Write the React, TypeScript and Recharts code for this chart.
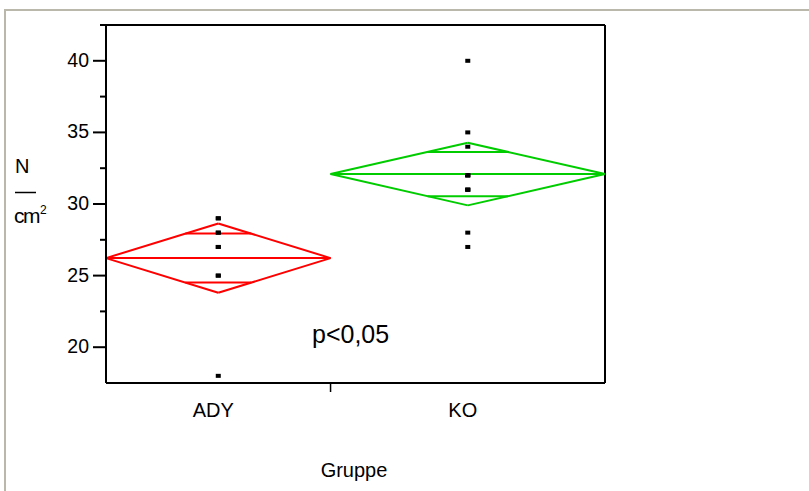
import { ScatterChart, Scatter, XAxis, YAxis, ReferenceLine } from 'recharts'

const groups = ['ADY', 'KO']
const adyValues = [29, 29, 28, 28, 27, 27, 25, 25, 18]
const koValues = [40, 35, 34, 32, 32, 32, 31, 31, 31, 28, 27]
const groupColors = ['#ff0000', '#00cc00']
const yTicks = [20, 22.5, 25, 27.5, 30, 32.5, 35, 37.5, 40, 42.5]
const T_CRIT = 2.101 // t(0.975, df = 18)

const FONT = '"Liberation Sans", Arial, sans-serif'

// group widths are proportional to n, diamonds use the pooled std error
const samples = [adyValues, koValues]
const totalN = samples.reduce((a, s) => a + s.length, 0)
const means = samples.map((s) => s.reduce((a, v) => a + v, 0) / s.length)
const ss = samples.reduce((a, s, i) => a + s.reduce((b, v) => b + (v - means[i]) ** 2, 0), 0)
const pooledSd = Math.sqrt(ss / (totalN - samples.length))

let start = 0
const stats = samples.map((s, i) => {
  const n = s.length
  const st = { n, mean: means[i], ci: (T_CRIT * pooledSd) / Math.sqrt(n), x0: start, x1: start + n, xc: start + n / 2 }
  start += n
  return st
})

const boundaries = stats.slice(1).map((s) => s.x0)
const xTicks = [...stats.map((s) => s.xc), ...boundaries].sort((a, b) => a - b)

type Pt = { x: number; y: number }
function segments(i: number): [Pt, Pt][] {
  const { n, mean: m, ci, x0, x1, xc } = stats[i]
  const d = ci / Math.SQRT2
  const w = (n / 2) * (1 - 1 / Math.SQRT2)
  return [
    [{ x: x0, y: m }, { x: xc, y: m + ci }],
    [{ x: xc, y: m + ci }, { x: x1, y: m }],
    [{ x: x1, y: m }, { x: xc, y: m - ci }],
    [{ x: xc, y: m - ci }, { x: x0, y: m }],
    [{ x: x0, y: m }, { x: x1, y: m }],
    [{ x: xc - w, y: m + d }, { x: xc + w, y: m + d }],
    [{ x: xc - w, y: m - d }, { x: xc + w, y: m - d }],
  ]
}

const YTick = ({ x, y, payload }: any) => {
  const v = payload.value
  const major = v % 5 === 0
  return (
    <g>
      <line x1={x - (major ? 13 : 6)} x2={x} y1={y} y2={y} stroke="#000" strokeWidth={2} />
      {major && (
        <text x={x - 17} y={y + 6} textAnchor="end" fontSize={19.5} fontFamily={FONT} fill="#000">
          {v}
        </text>
      )}
    </g>
  )
}

const XTick = ({ x, y, payload }: any) => {
  const idx = stats.findIndex((s) => s.xc === payload.value)
  if (idx < 0) return <line x1={x} x2={x} y1={y} y2={y + 9} stroke="#000" strokeWidth={1.5} />
  return (
    <text x={x - 5} y={y + 34} textAnchor="middle" fontSize={20} fontFamily={FONT} fill="#000">
      {groups[idx]}
    </text>
  )
}

const Dot = ({ cx, cy }: any) => <rect x={cx - 2.5} y={cy - 2} width={5} height={4} fill="#000" />

export default function App() {
  return (
    <div style={{ position: 'absolute', left: 0, top: 0, width: 809, height: 491, background: '#fff' }}>
      <ScatterChart width={809} height={491} margin={{ top: 25, right: 204, bottom: 78, left: 46 }}>
        <XAxis
          type="number"
          dataKey="x"
          domain={[0, totalN]}
          ticks={xTicks}
          interval={0}
          height={30}
          tickSize={0}
          tickMargin={0}
          tick={<XTick />}
          axisLine={{ stroke: '#000', strokeWidth: 2 }}
        />
        <YAxis
          type="number"
          dataKey="y"
          domain={[17.5, 42.5]}
          ticks={yTicks}
          interval={0}
          width={60}
          tickSize={0}
          tickMargin={0}
          tick={<YTick />}
          axisLine={{ stroke: '#000', strokeWidth: 2 }}
        />
        <ReferenceLine y={42.5} stroke="#000" strokeWidth={2} />
        <ReferenceLine x={totalN} stroke="#000" strokeWidth={2} />
        {groups.map((g, i) =>
          segments(i).map((seg, j) => (
            <ReferenceLine key={g + j} segment={seg} stroke={groupColors[i]} strokeWidth={2} ifOverflow="visible" />
          ))
        )}
        {groups.map((g, i) => (
          <Scatter
            key={g}
            name={g}
            data={samples[i].map((v) => ({ x: stats[i].xc, y: v }))}
            shape={<Dot />}
            isAnimationActive={false}
          />
        ))}
      </ScatterChart>
      <svg width={809} height={491} style={{ position: 'absolute', left: 0, top: 0, pointerEvents: 'none' }}>
        <line x1={5} x2={809} y1={10} y2={10} stroke="#bab7ab" strokeWidth={2} />
        <line x1={5} x2={5} y1={9} y2={491} stroke="#bab7ab" strokeWidth={2} />
        <g fontFamily={FONT} fill="#000">
          <text x={15} y={173} fontSize={20}>N</text>
          <line x1={15} x2={36} y1={192.5} y2={192.5} stroke="#000" strokeWidth={1.5} />
          <text x={14} y={223} fontSize={21} letterSpacing={-1.5}>cm</text>
          <text x={40} y={214} fontSize={12}>2</text>
          <text x={312} y={343} fontSize={25}>p&lt;0,05</text>
          <text x={354} y={477} fontSize={20} textAnchor="middle">Gruppe</text>
        </g>
      </svg>
    </div>
  )
}
